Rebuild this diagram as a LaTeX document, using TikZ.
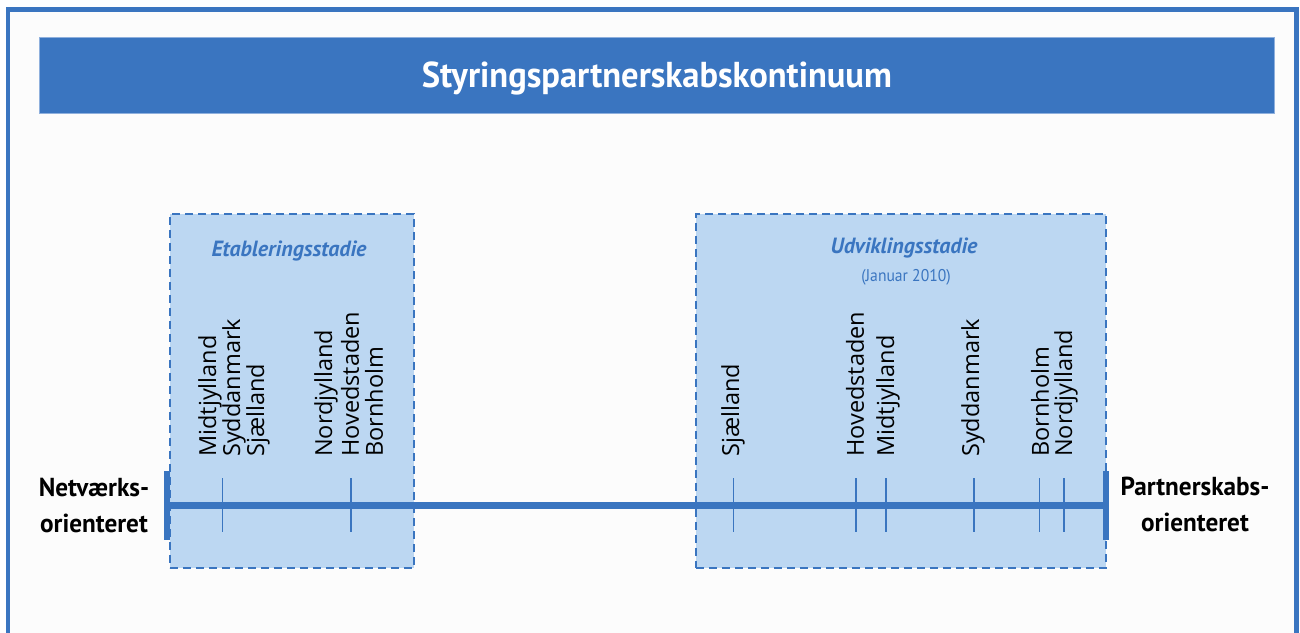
\documentclass[tikz,border=0pt]{standalone}
\usepackage{fontspec}
\setmainfont{Open Sans}
\newfontfamily\titlefont[FakeStretch=0.96]{PT Sans}
\newfontfamily\sidefont[FakeStretch=0.97]{PT Sans}
\newfontfamily\subfont[FakeStretch=0.92]{PT Sans}
\newfontfamily\stagefont{PT Sans}
\usetikzlibrary{calc}
\definecolor{mainblue}{HTML}{3A75C0}
\definecolor{boxfill}{HTML}{BCD7F2}
\definecolor{bgc}{HTML}{FCFCFC}
\definecolor{titleedge}{HTML}{8FB0DD}
\tikzset{
  titlebar/.style={fill=mainblue, draw=titleedge, line width=0.8pt, inner sep=0pt, text=white,
    text height=50pt, text depth=26pt, font=\titlefont\bfseries\fontsize{36}{40}\selectfont},
  stagebox/.style={fill=boxfill, draw=mainblue, line width=1.8pt, dash pattern=on 8pt off 5pt, inner sep=0pt},
  stagetitle/.style={anchor=base, text=mainblue, inner sep=0pt, font=\stagefont\bfseries\itshape\fontsize{22}{26}\selectfont},
  stagesub/.style={anchor=base, text=mainblue, inner sep=0pt, font=\subfont\fontsize{17}{20}\selectfont},
  region/.style={rotate=90, anchor=west, inner sep=0pt, text=black, font=\fontsize{23.5}{26}\selectfont},
  sidelabel/.style={anchor=base, inner sep=0pt, text=black, font=\sidefont\bfseries\fontsize{26}{30}\selectfont},
  axisline/.style={draw=mainblue, line width=7pt},
  capline/.style={draw=mainblue, line width=6pt},
  tickline/.style={draw=mainblue, line width=1.6pt}
}
\begin{document}
\begin{tikzpicture}[x=1pt,y=-1pt]
\useasboundingbox (0,0) rectangle (1300,632);
\clip (0,0) rectangle (1300,632);
\fill[white] (0,0) rectangle (1300,632);
\draw[mainblue, line width=4.5pt, fill=bgc] (8,9.5) rectangle (1296.5,700);

% title
\node[titlebar, minimum width=1235pt, anchor=north west] (title) at (39,37) {Styringspartnerskabskontinuum};

% stage boxes
\node[stagebox, minimum width=244pt, minimum height=354pt, anchor=north west] (etab) at (169,213) {};
\node[stagebox, minimum width=410pt, minimum height=354pt, anchor=north west] (udv) at (695,213) {};

\node[stagetitle] (etabT) at (289,256) {Etableringsstadie};
\node[stagetitle] (udvT) at (904,253) {Udviklingsstadie};
\node[stagesub] (udvS) at (906,281) {(Januar 2010)};

% axis
\coordinate (axL) at (167,505);
\coordinate (axR) at (1106,505);
\draw[axisline] (axL) -- (axR);
\draw[capline] ($(axL)+(0,-34)$) -- ($(axL)+(0,35)$);
\draw[capline] ($(axR)+(0,-34)$) -- ($(axR)+(0,35)$);

% ticks
\foreach \n/\x in {a/222.5, b/351, c/733.5, d/856, e/886, f/974, g/1039.5, h/1064}{
  \coordinate (t\n) at (\x,505);
  \draw[tickline] ($(t\n)+(0,-27)$) -- ($(t\n)+(0,27)$);
}

% region labels
\node[region] (r1) at (210,457) {Midtjylland};
\node[region] (r2) at (234,457) {Syddanmark};
\node[region] (r3) at (258,457) {Sjælland};
\node[region] (r4) at (326,457) {Nordjylland};
\node[region] (r5) at (350,457) {Hovedstaden};
\node[region] (r6) at (374,457) {Bornholm};

\node[region] (s1) at (733,457) {Sjælland};
\node[region] (s2) at (855,457) {Hovedstaden};
\node[region] (s3) at (888,457) {Midtjylland};
\node[region] (s4) at (973,457) {Syddanmark};
\node[region] (s5) at (1040,457) {Bornholm};
\node[region] (s6) at (1066,457) {Nordjylland};

% side labels
\node[sidelabel] (netvA) at (94,496) {Netværks-};
\node[sidelabel] (netvB) at (94,532) {orienteret};
\node[sidelabel] (partnA) at (1195,495) {Partnerskabs-};
\node[sidelabel] (partnB) at (1195,531) {orienteret};
\end{tikzpicture}
\end{document}
